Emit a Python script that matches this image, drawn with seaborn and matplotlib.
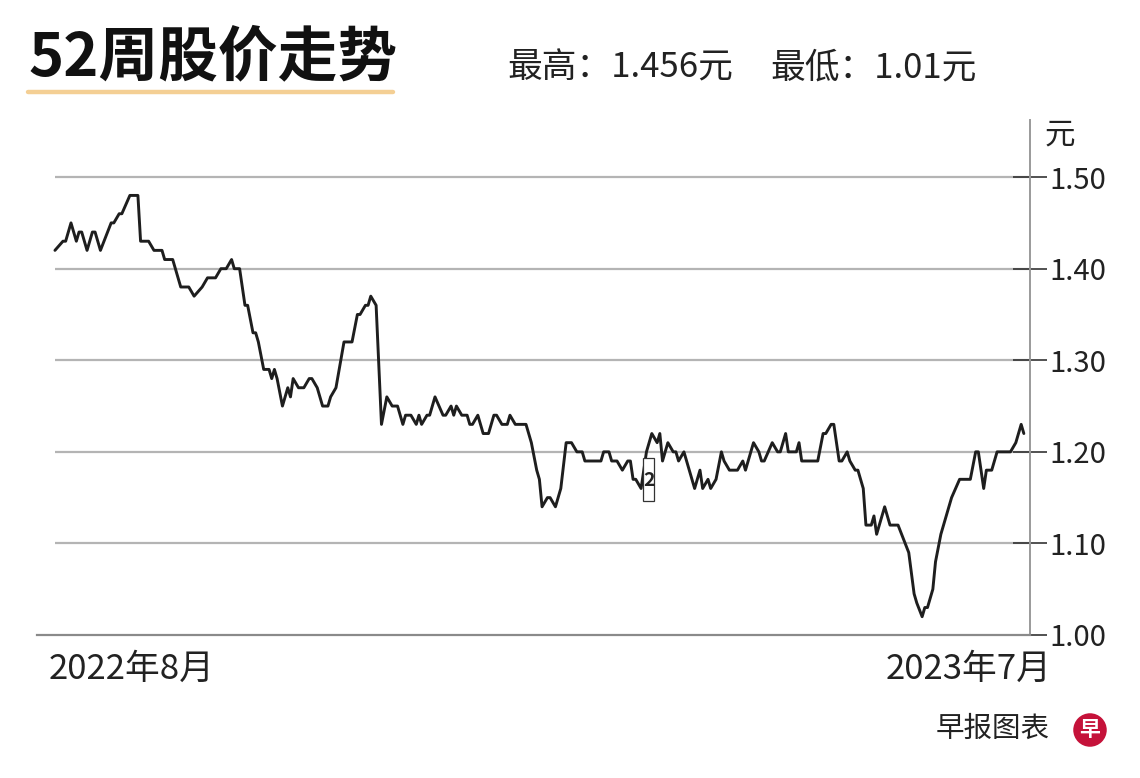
import pandas as pd
import matplotlib.pyplot as plt
import matplotlib.patches as mpatches
import matplotlib.lines as mlines
import seaborn as sns

# ─────────────────────────────────────────────
# Data: days since 2022-07-18, closing price (元)
# ─────────────────────────────────────────────
START = pd.Timestamp("2022-07-18")

days = [
    0, 3, 4, 6, 8, 9, 10, 12, 14, 15,
    17, 21, 22, 24, 25, 28, 31, 32, 35, 37,
    40, 41, 44, 47, 50, 52, 55, 57, 60, 62,
    64, 66, 67, 69, 71, 72, 74, 75, 76, 78,
    80, 81, 82, 83, 85, 87, 88, 89, 91, 93,
    95, 96, 98, 100, 102, 103, 105, 108, 111, 113,
    114, 116, 117, 118, 120, 122, 124, 126, 128, 130,
    131, 133, 135, 136, 137, 139, 140, 142, 145, 146,
    148, 149, 150, 152, 154, 155, 156, 158, 160, 162,
    164, 165, 167, 169, 170, 172, 176, 178, 180, 181,
    182, 184, 185, 187, 189, 191, 193, 195, 197, 198,
    204, 205, 207, 208, 210, 212, 214, 215, 216, 217,
    219, 221, 222, 223, 225, 226, 227, 229, 231, 232,
    233, 235, 236, 239, 241, 242, 244, 245, 247, 249,
    250, 252, 255, 257, 258, 261, 263, 264, 265, 268,
    270, 271, 273, 274, 277, 278, 279, 285, 287, 288,
    290, 291, 293, 294, 296, 297, 299, 300, 302, 303,
    305, 306, 307, 310, 312, 315, 317, 319, 321, 322,
    324, 325, 326, 328, 329, 331, 333, 335, 338, 342,
    344, 345, 347, 348, 350, 352, 357, 359, 361, 362,
]

prices = [
    1.42, 1.43, 1.43, 1.45, 1.43, 1.44, 1.44, 1.42, 1.44, 1.44,
    1.42, 1.45, 1.45, 1.46, 1.46, 1.48, 1.48, 1.43, 1.43, 1.42,
    1.42, 1.41, 1.41, 1.38, 1.38, 1.37, 1.38, 1.39, 1.39, 1.40,
    1.40, 1.41, 1.40, 1.40, 1.36, 1.36, 1.33, 1.33, 1.32, 1.29,
    1.29, 1.28, 1.29, 1.28, 1.25, 1.27, 1.26, 1.28, 1.27, 1.27,
    1.28, 1.28, 1.27, 1.25, 1.25, 1.26, 1.27, 1.32, 1.32, 1.35,
    1.35, 1.36, 1.36, 1.37, 1.36, 1.23, 1.26, 1.25, 1.25, 1.23,
    1.24, 1.24, 1.23, 1.24, 1.23, 1.24, 1.24, 1.26, 1.24, 1.24,
    1.25, 1.24, 1.25, 1.24, 1.24, 1.23, 1.23, 1.24, 1.22, 1.22,
    1.24, 1.24, 1.23, 1.23, 1.24, 1.23, 1.23, 1.21, 1.18, 1.17,
    1.14, 1.15, 1.15, 1.14, 1.16, 1.21, 1.21, 1.20, 1.20, 1.19,
    1.19, 1.20, 1.20, 1.19, 1.19, 1.18, 1.19, 1.19, 1.17, 1.17,
    1.16, 1.20, 1.21, 1.22, 1.21, 1.22, 1.19, 1.21, 1.20, 1.20,
    1.19, 1.20, 1.19, 1.16, 1.18, 1.16, 1.17, 1.16, 1.17, 1.20,
    1.19, 1.18, 1.18, 1.19, 1.18, 1.21, 1.20, 1.19, 1.19, 1.21,
    1.20, 1.20, 1.22, 1.20, 1.20, 1.21, 1.19, 1.19, 1.22, 1.22,
    1.23, 1.23, 1.19, 1.19, 1.20, 1.19, 1.18, 1.18, 1.16, 1.12,
    1.12, 1.13, 1.11, 1.14, 1.12, 1.12, 1.105, 1.09, 1.045, 1.035,
    1.02, 1.03, 1.03, 1.05, 1.08, 1.11, 1.13, 1.15, 1.17, 1.17,
    1.20, 1.20, 1.16, 1.18, 1.18, 1.20, 1.20, 1.21, 1.23, 1.22,
]

y_ticks = [1.00, 1.10, 1.20, 1.30, 1.40, 1.50]
x_tick_dates = ["2022-08-01", "2023-07-01"]
x_tick_labels = ["2022年8月", "2023年7月"]
title = "52周股价走势"
high_text = "最高：1.456元"
low_text = "最低：1.01元"
source = "早报图表"

df = pd.DataFrame({"date": START + pd.to_timedelta(days, unit="D"), "price": prices})

# ─────────────────────────────────────────────
# Style
# ─────────────────────────────────────────────
sns.set_theme(style="white")
plt.rcParams["font.family"] = ["Noto Sans CJK SC", "DejaVu Sans"]
TEXT = "#222222"
GRID = "#b4b4b4"
AXIS = "#8a8a8a"

W, H = 1140, 778
fig = plt.figure(figsize=(W / 100, H / 100), dpi=100)
fig.patch.set_facecolor("white")
ax = fig.add_axes([37 / W, 1 - 635 / H, (1030 - 37) / W, (635 - 120) / H])

sns.lineplot(data=df, x="date", y="price", ax=ax, color="#1e1e1e", linewidth=2.1)

x_left = START - pd.Timedelta(days=6.7)
x_right = START + pd.Timedelta(days=364.3)
ax.set_xlim(x_left, x_right)
ax.set_ylim(1.0, 1.5 + 57 / 914)

# gridlines start where the series starts
ax.hlines(y_ticks[1:], df["date"].iloc[0], x_right, colors=GRID, linewidth=1.6, zorder=0)

for s in ["top", "left"]:
    ax.spines[s].set_visible(False)
ax.spines["bottom"].set_color(AXIS)
ax.spines["bottom"].set_linewidth(1.6)
ax.spines["right"].set_color("#9a9a9a")
ax.spines["right"].set_linewidth(1.4)

ax.yaxis.tick_right()
ax.set_yticks(y_ticks)
ax.set_yticklabels([f"{v:.2f}" for v in y_ticks])
ax.tick_params(axis="y", direction="inout", length=24, width=1.2, color="#333333",
               labelsize=21, labelcolor=TEXT, pad=2)
ax.set_xticks(pd.to_datetime(x_tick_dates))
ax.set_xticklabels(["", ""])
ax.tick_params(axis="x", direction="in", length=10, width=0.8, color="#777777")
ax.set_xlabel("")
ax.set_ylabel("")

# small event marker box
ax.add_patch(mpatches.Rectangle((START + pd.Timedelta(days=219.8), 1.146), pd.Timedelta(days=4.1), 0.047,
                                fill=True, facecolor="white", edgecolor="#333333", linewidth=0.9, zorder=4))
ax.text(START + pd.Timedelta(days=221.85), 1.169, "2", ha="center", va="center", fontsize=14,
        color=TEXT, fontweight="bold", zorder=5)

# ─────────────────────────────────────────────
# Text around the chart
# ─────────────────────────────────────────────
fig.text(29 / W, 1 - 58 / H, title, ha="left", va="center", fontsize=43, fontweight="heavy", color="#111111")
fig.add_artist(mlines.Line2D([28 / W, 393 / W], [1 - 92 / H, 1 - 92 / H], color="#f4cf94", linewidth=3.2))
fig.text(507 / W, 1 - 68 / H, high_text, ha="left", va="center", fontsize=25, color=TEXT)
fig.text(770 / W, 1 - 68 / H, low_text, ha="left", va="center", fontsize=25, color=TEXT)
fig.text(1045 / W, 1 - 135 / H, "元", ha="left", va="center", fontsize=22, color=TEXT)

fig.text(49 / W, 1 - 669 / H, x_tick_labels[0], ha="left", va="center", fontsize=25, color=TEXT)
fig.text(886 / W, 1 - 669 / H, x_tick_labels[1], ha="left", va="center", fontsize=25, color=TEXT)

fig.text(1050 / W, 1 - 729 / H, source, ha="right", va="center", fontsize=20.5, color=TEXT)
fig.text(1090 / W, 1 - 730 / H, "早", ha="center", va="center", fontsize=15, fontweight="bold", color="white",
         bbox=dict(boxstyle="circle,pad=0.3", facecolor="#c5123a", edgecolor="none"))

plt.savefig("out.png", dpi=100, facecolor="white")
plt.close()
